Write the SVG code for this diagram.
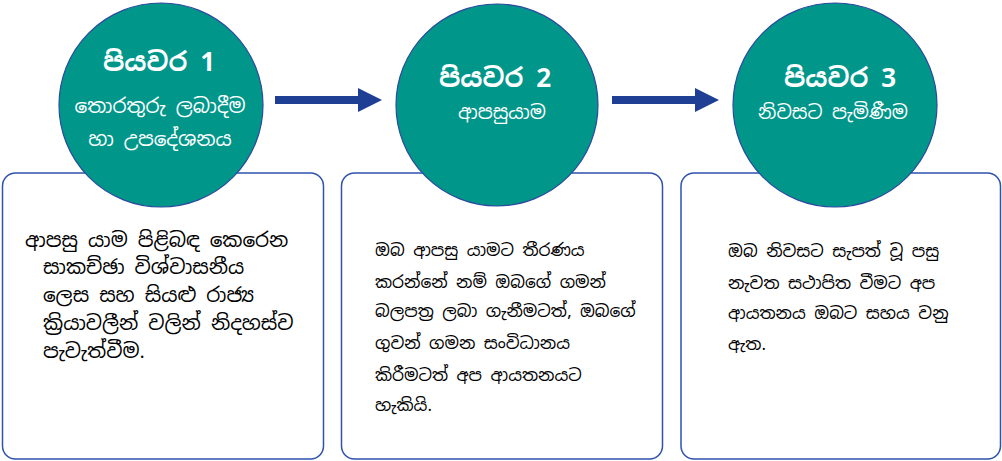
<svg xmlns="http://www.w3.org/2000/svg" width="1002" height="461" viewBox="0 0 1002 461">
<style>
.box{fill:#fff;stroke:#2f52ad;stroke-width:1.5}
.circ{fill:#00968a;stroke:#2b4a9e;stroke-width:1.2}
.title{font-family:"Noto Sans Sinhala","Iskoola Pota","Noto Sans",sans-serif;font-weight:bold;font-size:26px;fill:#fff;text-anchor:middle}
.sub{font-family:"Noto Sans Sinhala","Iskoola Pota","Noto Sans",sans-serif;font-size:19px;fill:#fff;text-anchor:middle}
.body1{font-family:"Noto Sans Sinhala","Iskoola Pota","Noto Sans",sans-serif;font-size:20px;fill:#000}
.body{font-family:"Noto Sans Sinhala","Iskoola Pota","Noto Sans",sans-serif;font-size:17px;fill:#000}
.arrow{fill:#1f3f95}
</style>
<rect width="1002" height="461" fill="#fff"/>
<g id="box1"><rect class="box" x="2.5" y="173" width="321" height="286" rx="13"/>
<text class="body1"><tspan x="25" y="247">ආපසු යාම පිළිබඳ කෙරෙන</tspan><tspan x="43" y="274">සාකච්ඡා විශ්වාසනීය</tspan><tspan x="43" y="302">ලෙස සහ සියළු රාජ්‍ය</tspan><tspan x="43" y="330">ක්‍රියාවලීන් වලින් නිදහස්ව</tspan><tspan x="43" y="358">පැවැත්වීම.</tspan></text></g>
<g id="box2"><rect class="box" x="341.5" y="173" width="321" height="286" rx="13"/>
<text class="body"><tspan x="375" y="256">ඔබ ආපසු යාමට තීරණය</tspan><tspan x="375" y="288">කරන්නේ නම් ඔබගේ ගමන්</tspan><tspan x="375" y="317">බලපත්‍ර ලබා ගැනීමටත්, ඔබගේ</tspan><tspan x="375" y="349">ගුවන් ගමන සංවිධානය</tspan><tspan x="375" y="381">කිරීමටත් අප ආයතනයට</tspan><tspan x="375" y="411">හැකියි.</tspan></text></g>
<g id="box3"><rect class="box" x="681" y="173" width="319.5" height="286" rx="13"/>
<text class="body"><tspan x="728" y="257">ඔබ නිවසට සැපත් වූ පසු</tspan><tspan x="728" y="289">නැවත සථාපිත වීමට අප</tspan><tspan x="728" y="319">ආයතනය ඔබට සහය වනු</tspan><tspan x="728" y="350">ඇත.</tspan></text></g>
<g id="step1"><circle class="circ" cx="161" cy="105" r="102"/>
<text class="title" x="159" y="71">පියවර 1</text>
<text class="sub" x="160" y="113" style="font-size:20px">තොරතුරු ලබාදීම</text>
<text class="sub" x="160" y="146" style="font-size:20px">හා උපදේශනය</text></g>
<g id="step2"><circle class="circ" cx="497" cy="105" r="101"/>
<text class="title" x="495" y="87">පියවර 2</text>
<text class="sub" x="502" y="119">ආපසුයාම</text></g>
<g id="step3"><circle class="circ" cx="835" cy="105" r="102"/>
<text class="title" x="840" y="87">පියවර 3</text>
<text class="sub" x="833" y="119">නිවසට පැමිණීම</text></g>
<g id="connectors">
<path class="arrow" d="M275 96H358V88L382 100L358 112V104H275Z"/>
<path class="arrow" d="M612 96H695V88L719 100L695 112V104H612Z"/>
</g>
</svg>
